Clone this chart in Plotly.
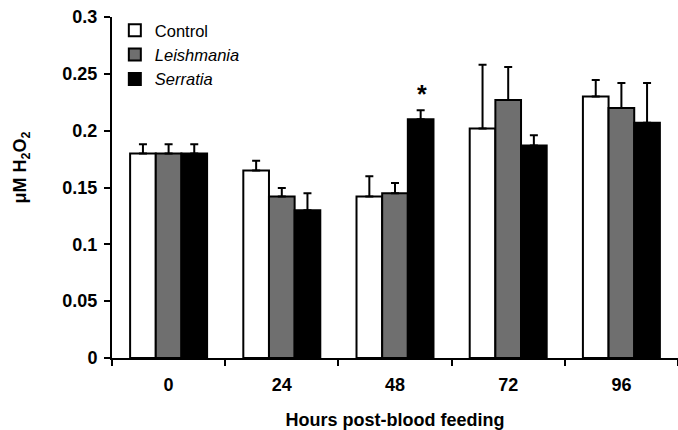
import plotly.graph_objects as go

hours = ["0", "24", "48", "72", "96"]
control = [0.180, 0.165, 0.142, 0.202, 0.230]
control_err = [0.008, 0.0085, 0.018, 0.056, 0.0145]
leish = [0.180, 0.142, 0.145, 0.227, 0.220]
leish_err = [0.008, 0.0075, 0.009, 0.029, 0.022]
serratia = [0.180, 0.130, 0.210, 0.187, 0.207]
serratia_err = [0.008, 0.015, 0.008, 0.009, 0.035]
y_ticks = [0, 0.05, 0.1, 0.15, 0.2, 0.25, 0.3]
y_tick_labels = ["0", "0.05", "0.1", "0.15", "0.2", "0.25", "0.3"]

names = ["Control", "<i>Leishmania</i>", "<i>Serratia</i>"]
colors = ["#ffffff", "#6f6f6f", "#000000"]
FONT = "Arial, Liberation Sans, sans-serif"

fig = go.Figure()
for name, vals, errs, col in zip(names, [control, leish, serratia],
                                 [control_err, leish_err, serratia_err], colors):
    fig.add_trace(go.Bar(
        x=hours, y=vals, name=name,
        marker=dict(color=col, line=dict(color="black", width=2)),
        error_y=dict(type="data", symmetric=False, array=errs,
                     arrayminus=[0] * len(errs), color="black",
                     thickness=2, width=4),
    ))

# significance mark above Serratia at 48 h
i = hours.index("48")
fig.add_annotation(x=i, y=serratia[i] + serratia_err[i], xref="x", yref="y",
                   text="<b>*</b>", showarrow=False, xshift=27, yshift=16,
                   font=dict(size=25, color="black", family=FONT))

# y-axis title (placed like the reference, slightly above the middle)
fig.add_annotation(x=-0.16, y=0.56, xref="paper", yref="paper",
                   text="<b>μM H<sub>2</sub>O<sub>2</sub></b>", textangle=-90,
                   showarrow=False, xanchor="center", yanchor="middle",
                   font=dict(size=18, color="black", family=FONT))

fig.update_layout(
    width=678, height=430,
    margin=dict(l=112, r=0, t=17, b=72),
    plot_bgcolor="white", paper_bgcolor="white",
    barmode="group", bargap=0.32, bargroupgap=0,
    font=dict(family=FONT, color="black"),
    showlegend=True,
    legend=dict(x=0.005, y=1.012, xanchor="left", yanchor="top",
                font=dict(size=16.5, color="black", family=FONT),
                bgcolor="rgba(0,0,0,0)", tracegroupgap=0, itemwidth=30),
    xaxis=dict(
        type="category", showline=True, linecolor="black", linewidth=2,
        ticks="outside", tickson="boundaries", ticklen=6, tickwidth=2,
        tickcolor="black", showgrid=False, ticklabelstandoff=9,
        tickmode="array", tickvals=hours,
        ticktext=["<b>%s</b>" % h for h in hours],
        tickfont=dict(size=18, family=FONT, color="black"),
        title=dict(text="<b>Hours post-blood feeding</b>",
                   font=dict(size=18, family=FONT, color="black"), standoff=21),
    ),
    yaxis=dict(
        range=[0, 0.3], showline=True, linecolor="black",
        linewidth=2, ticks="outside", ticklen=6, tickwidth=2,
        tickcolor="black", showgrid=False, zeroline=False,
        ticklabelstandoff=3,
        tickmode="array", tickvals=y_ticks,
        ticktext=["<b>%s</b>" % t for t in y_tick_labels],
        tickfont=dict(size=18, family=FONT, color="black"),
    ),
)

fig.write_html("out.html")
